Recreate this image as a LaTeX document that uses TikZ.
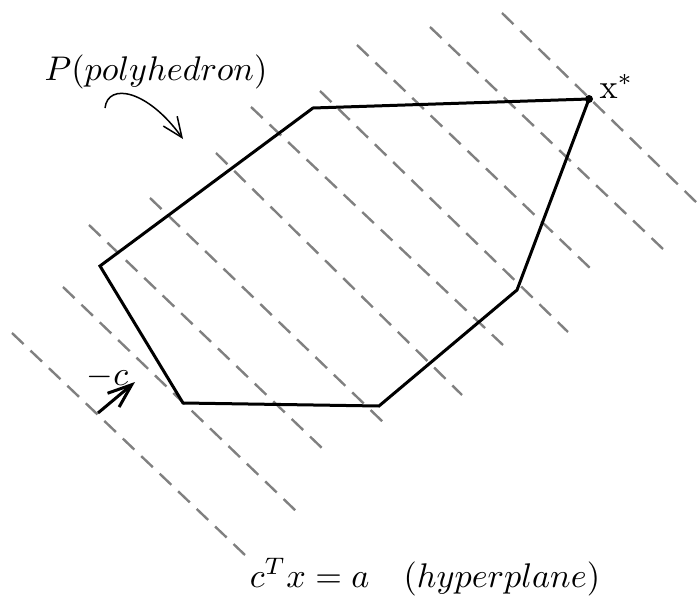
\documentclass[tikz,border=0pt]{standalone}
\usetikzlibrary{arrows.meta}
\begin{document}
\begin{tikzpicture}[x=1pt,y=-1pt,
  hyper/.style={draw={rgb,255:red,128;green,128;blue,128}, line width=2.4pt, dash pattern=on 16pt off 9.5pt},
  poly/.style={draw=black, line width=3pt, line join=miter},
  lbl/.style={scale=3.42, inner sep=0pt},
]
\useasboundingbox (0,0) rectangle (697,597);

% hyperplanes (dashed)
\coordinate (h1a) at (502,13);  \coordinate (h1b) at (697,203);
\coordinate (h2a) at (430,27);  \coordinate (h2b) at (663,249);
\coordinate (h3a) at (357,45);  \coordinate (h3b) at (590,268);
\coordinate (h4a) at (320,91);  \coordinate (h4b) at (568,332);
\coordinate (h5a) at (251,107); \coordinate (h5b) at (503,345);
\coordinate (h6a) at (216,153); \coordinate (h6b) at (462,395);
\coordinate (h7a) at (150,198); \coordinate (h7b) at (383,422);
\coordinate (h8a) at (89,225);  \coordinate (h8b) at (323,449);
\coordinate (h9a) at (63,287);  \coordinate (h9b) at (296,511);
\coordinate (h10a) at (12,333); \coordinate (h10b) at (245,555);
\foreach \i in {1,...,10} \draw[hyper] (h\i a) -- (h\i b);

% polyhedron
\coordinate (A) at (313,108);
\coordinate (X) at (589,99);
\coordinate (B) at (517,290);
\coordinate (C) at (379,406);
\coordinate (D) at (183,403);
\coordinate (E) at (100,266);
\draw[poly] (A) -- (X) -- (B) -- (C) -- (D) -- (E) -- cycle;
\fill (X) circle (4pt);

% labels
\node[lbl, anchor=base west] (xs) at (599,98) {x$^*$};
\node[lbl, anchor=base] (P) at (156,80) {$P(polyhedron)$};
\node[lbl, anchor=base] (hp) at (425,587) {$c^Tx=a\quad(hyperplane)$};
\node[lbl, anchor=base west] (mc) at (86,385) {$-c$};

% curved arrow
\coordinate (s1) at (105,108);
\coordinate (s2) at (183,139);
\draw[line width=1.5pt, -{Straight Barb[length=20pt,width=17pt]}] (s1) .. controls (108,82) and (148,90) .. (s2);

% -c arrow
\coordinate (c1) at (98,413);
\coordinate (c2) at (135,382);
\draw[line width=3pt, -{Straight Barb[length=24pt,width=18pt]}] (c1) -- (c2);
\end{tikzpicture}
\end{document}
